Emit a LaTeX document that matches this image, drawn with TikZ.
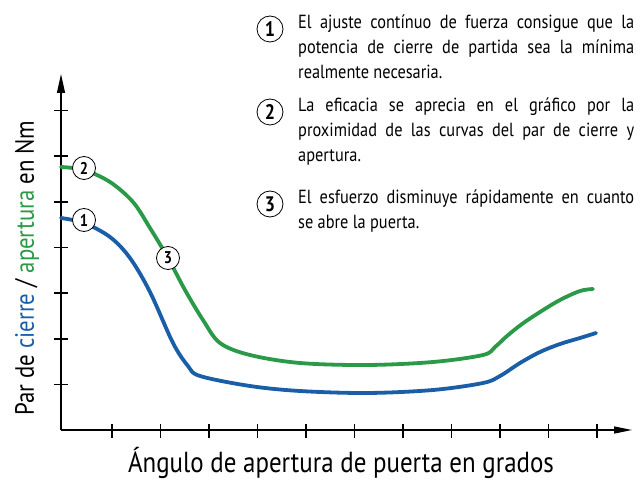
\documentclass[tikz,border=0pt]{standalone}
\usepackage{fontspec}
\setmainfont{PT Sans}[FakeStretch=0.86]
\usetikzlibrary{arrows.meta,positioning}
\definecolor{cierre}{RGB}{26,94,168}
\definecolor{apertura}{RGB}{42,154,72}
\tikzset{
  num/.style={circle,draw,fill=white,line width=0.8pt,inner sep=0pt,minimum size=23pt,font=\fontsize{17}{17}\selectfont\bfseries},
  bignum/.style={num,minimum size=26pt,font=\fontsize{21}{21}\selectfont\bfseries},
  curva/.style={line width=3.8pt,line cap=round,line join=round},
  nota/.style={text width=336pt,align=justify,inner sep=0pt,anchor=base west,font=\fontsize{19}{25}\selectfont},
  eje/.style={line width=1.3pt},
  marca/.style={line width=1.6pt}
}
\begin{document}
\begin{tikzpicture}[x=1pt,y=-1pt]
\useasboundingbox (0,0) rectangle (640,481);
% ejes
\coordinate (origen) at (61,430);
\coordinate (ytop) at (61,74);
\coordinate (xend) at (632,430);
\draw[eje,-{Triangle[length=19pt,width=8pt]}] (origen) -- (ytop);
\draw[eje,-{Triangle[length=18pt,width=7pt]}] (origen) -- (xend);
\foreach \i in {0,...,10} \draw[marca] ({112+48.5*\i},424) -- ++(0,14);
\foreach \j in {0,...,6} \draw[marca] (54,{110.7+45.6*\j}) -- ++(14,0);
\node[anchor=base,inner sep=0pt,font=\fontsize{29}{29}\selectfont] (xlabel) at (341,472) {Ángulo de apertura de puerta en grados};
\node[rotate=90,anchor=base,inner sep=0pt,font=\fontsize{26.5}{26.5}\selectfont] (ylabel) at (34,268) {Par de \textcolor{cierre}{cierre} / \textcolor{apertura}{apertura} en Nm};
% curvas
\draw[curva,cierre] plot[smooth,tension=0.55] coordinates {(61,218) (84,223) (110,237) (130,258) (150,292) (173,343) (188,366) (200,376) (250,386) (300,391) (367,393) (433,390) (483,383) (500,376) (520,363) (540,352) (560,344) (580,338) (596,333)};
\draw[curva,apertura] plot[smooth,tension=0.55] coordinates {(61,167) (84,170) (110,182) (133,202) (150,228) (168,258) (185,290) (203,320) (220,343) (250,355) (300,363) (367,365) (433,362) (483,355) (495,347) (507,336) (522,324) (540,312) (560,300) (580,291) (593,289)};
\node[num] (c1) at (84,220) {1};
\node[num] (c2) at (84,168) {2};
\node[num] (c3) at (168,258) {3};
% notas
\node[nota] (n1) at (298,29) {El ajuste contínuo de fuerza consigue que la\linebreak potencia de cierre de partida sea la mínima\linebreak realmente necesaria.};
\node[nota] (n2) at (298,112) {La eficacia se aprecia en el gráfico por la\linebreak proximidad de las curvas del par de cierre y\linebreak apertura.};
\node[nota] (n3) at (298,204) {El esfuerzo disminuye rápidamente en cuanto\linebreak se abre la puerta.};
\node[bignum] (b1) at (270,29) {1};
\node[bignum] (b2) at (270,112) {2};
\node[bignum] (b3) at (270,204) {3};
\end{tikzpicture}
\end{document}
